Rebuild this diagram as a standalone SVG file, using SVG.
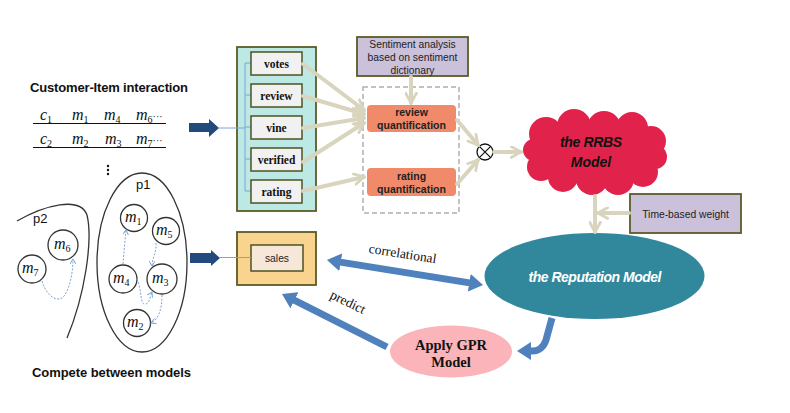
<svg xmlns="http://www.w3.org/2000/svg" width="790" height="413" viewBox="0 0 790 413">
<style>
.sans{font-family:"Liberation Sans","DejaVu Sans",sans-serif}
.serif{font-family:"Liberation Serif","DejaVu Serif",serif}
.math{font-family:"Liberation Serif","DejaVu Serif",serif;font-style:italic;font-size:16px;fill:#111}
.sub{font-size:10px;font-style:normal}
.node{fill:#fff;stroke:#333;stroke-width:1.3}
.dash{fill:none;stroke:#7aa6da;stroke-width:1;stroke-dasharray:2,1.5}
.beige{fill:none;stroke:#d8d4bd;stroke-width:4;stroke-linecap:round}
.blue{fill:none;stroke:#4f81bd;stroke-width:7}
.thin{fill:none;stroke:#7aa6d6;stroke-width:1}
.field{fill:#f1f1f1;stroke:#4d5220;stroke-width:1.5}
.fieldtxt{font-family:"Liberation Serif",serif;font-weight:bold;font-size:11.5px;fill:#111;text-anchor:middle}
.olive{stroke:#5b5a26;stroke-width:1.8}
.quant{fill:#f18a6a}
.qtxt{font-family:"Liberation Sans",sans-serif;font-weight:bold;font-size:10.5px;fill:#222;text-anchor:middle}
.small{font-family:"Liberation Sans",sans-serif;font-size:10.3px;fill:#222;text-anchor:middle}
</style>
<defs>
<marker id="chev" viewBox="0 0 12 12" refX="10" refY="6" markerWidth="13" markerHeight="13" markerUnits="userSpaceOnUse" orient="auto">
<path d="M1,1 L10,6 L1,11" fill="none" stroke="#d8d4bd" stroke-width="2.6" stroke-linecap="round"/>
</marker>
<marker id="tri" viewBox="0 0 14 18" refX="2" refY="9" markerWidth="14" markerHeight="18" markerUnits="userSpaceOnUse" orient="auto-start-reverse">
<path d="M0,0 L14,9 L0,18 z" fill="#4f81bd"/>
</marker>
<marker id="dtri" viewBox="0 0 6 6" refX="5" refY="3" markerWidth="6" markerHeight="6" markerUnits="userSpaceOnUse" orient="auto">
<path d="M0,0 L5,3 L0,6" fill="none" stroke="#7aa6da" stroke-width="1"/>
</marker>
</defs>
<rect width="790" height="413" fill="#fff"/>

<!-- Customer-item interaction -->
<g id="interaction">
<text x="30" y="92" class="sans" font-weight="bold" font-size="13" textLength="158" fill="#111">Customer-Item interaction</text>
<text class="math" y="120"><tspan x="40">c</tspan><tspan class="sub" dy="3">1</tspan><tspan x="72" dy="-3">m</tspan><tspan class="sub" dy="3">1</tspan><tspan x="104" dy="-3">m</tspan><tspan class="sub" dy="3">4</tspan><tspan x="136" dy="-3">m</tspan><tspan class="sub" dy="3">6</tspan><tspan dy="-3" font-style="normal" font-size="10">···</tspan></text>
<line x1="33" y1="123.5" x2="166" y2="123.5" stroke="#111" stroke-width="1.2"/>
<text class="math" y="144"><tspan x="40">c</tspan><tspan class="sub" dy="3">2</tspan><tspan x="72" dy="-3">m</tspan><tspan class="sub" dy="3">2</tspan><tspan x="105" dy="-3">m</tspan><tspan class="sub" dy="3">3</tspan><tspan x="136" dy="-3">m</tspan><tspan class="sub" dy="3">7</tspan><tspan dy="-3" font-style="normal" font-size="10">···</tspan></text>
<line x1="33" y1="147.5" x2="166" y2="147.5" stroke="#111" stroke-width="1.2"/>
<circle cx="108" cy="166" r="1.2" fill="#111"/>
<circle cx="108" cy="170" r="1.2" fill="#111"/>
<circle cx="108" cy="174" r="1.2" fill="#111"/>
</g>

<!-- Compete between models -->
<g id="compete">
<path d="M17,221 C45,205 80,196 87,215 C93,240 85,295 67,338" fill="none" stroke="#333" stroke-width="1.3"/>
<text x="33" y="223" class="sans" font-size="13" fill="#111">p2</text>
<ellipse cx="142" cy="262.5" rx="45" ry="89.5" fill="none" stroke="#333" stroke-width="1.3"/>
<text x="136" y="189" class="sans" font-size="13" fill="#111">p1</text>
<g id="m6"><circle cx="63" cy="245" r="15" class="node"/><text class="math" x="54" y="249">m<tspan class="sub" dy="3">6</tspan></text></g>
<g id="m7"><circle cx="32" cy="269" r="14" class="node"/><text class="math" x="22" y="273">m<tspan class="sub" dy="3">7</tspan></text></g>
<g id="m1"><circle cx="134" cy="218" r="13.5" class="node"/><text class="math" x="125" y="222">m<tspan class="sub" dy="3">1</tspan></text></g>
<g id="m5"><circle cx="166" cy="231" r="13.5" class="node"/><text class="math" x="156" y="235">m<tspan class="sub" dy="3">5</tspan></text></g>
<g id="m4"><circle cx="123" cy="279" r="14" class="node"/><text class="math" x="113" y="283">m<tspan class="sub" dy="3">4</tspan></text></g>
<g id="m3"><circle cx="162" cy="279" r="15" class="node"/><text class="math" x="152" y="283">m<tspan class="sub" dy="3">3</tspan></text></g>
<g id="m2"><circle cx="137" cy="323" r="13.5" class="node"/><text class="math" x="127" y="327">m<tspan class="sub" dy="3">2</tspan></text></g>
<g id="m-links">
<path class="dash" d="M42,281 C48,300 60,302 64,296 C70,288 73,272 73,259" marker-end="url(#dtri)"/>
<path class="dash" d="M123,264 C124,252 125,240 126,230" marker-end="url(#dtri)"/>
<path class="dash" d="M156,243 C157,252 152,258 152,266" marker-end="url(#dtri)"/>
<path class="dash" d="M137,279 C142,290 140,305 145,304 C150,304 150,296 152,292" marker-end="url(#dtri)"/>
<path class="dash" d="M162,295 C162,310 158,320 151,323" marker-end="url(#dtri)"/>
</g>
<text x="32" y="377" class="sans" font-weight="bold" font-size="13" textLength="159" fill="#111">Compete between models</text>
</g>

<!-- Navy block arrows -->
<g id="big-arrows" fill="#234a7d">
<polygon points="189,123 209,123 209,119 219,128 209,137 209,132 189,132"/>
<polygon points="190,253 211,253 211,250 220,258 211,266 211,263 190,263"/>
</g>

<!-- Feature panel -->
<g id="features">
<rect x="237" y="47" width="79" height="164" fill="#bce9e4" class="olive"/>
<path class="thin" d="M219,128 H245 M245,63 V191 M245,63 H251 M245,95 H251 M245,127 H251 M245,159 H251 M245,191 H251"/>
<g id="votes"><rect x="251" y="52" width="51" height="23" class="field"/><text x="276.5" y="67.5" class="fieldtxt">votes</text></g>
<g id="review"><rect x="251" y="84" width="51" height="23" class="field"/><text x="276.5" y="99.5" class="fieldtxt">review</text></g>
<g id="vine"><rect x="251" y="116" width="51" height="23" class="field"/><text x="276.5" y="131.5" class="fieldtxt">vine</text></g>
<g id="verified"><rect x="251" y="148" width="51" height="23" class="field"/><text x="276.5" y="163.5" class="fieldtxt">verified</text></g>
<g id="rating"><rect x="251" y="180" width="51" height="23" class="field"/><text x="276.5" y="195.5" class="fieldtxt">rating</text></g>
</g>

<!-- Sales -->
<g id="sales">
<rect x="237" y="232" width="79" height="53" fill="#f9d48e" class="olive"/>
<rect x="251" y="245" width="52" height="26" fill="#f6e7d8" stroke="#4d5220" stroke-width="1.5"/>
<path class="thin" d="M220,257.5 H251"/>
<text x="277" y="261.5" class="small">sales</text>
</g>

<!-- Sentiment -->
<g id="sentiment">
<rect x="357" y="37" width="111" height="39" fill="#ccc1da" class="olive"/>
<text x="412.5" y="47.5" class="small">Sentiment analysis</text>
<text x="412.5" y="60.5" class="small">based on sentiment</text>
<text x="412.5" y="73.5" class="small">dictionary</text>
</g>

<!-- Quantification -->
<g id="quantification">
<rect x="363" y="87" width="96" height="126" fill="none" stroke="#b0b0b0" stroke-width="1.5" stroke-dasharray="5,3"/>
<g id="review-q"><rect x="367" y="105" width="89" height="27" rx="4" class="quant"/><text x="411.5" y="116" class="qtxt">review</text><text x="411.5" y="129" class="qtxt">quantification</text></g>
<g id="rating-q"><rect x="367" y="168" width="89" height="28" rx="4" class="quant"/><text x="411.5" y="180" class="qtxt">rating</text><text x="411.5" y="193" class="qtxt">quantification</text></g>
</g>

<!-- Combine -->
<g id="combine">
<circle cx="485" cy="152" r="8" fill="#fff" stroke="#111" stroke-width="1.3"/>
<path d="M479.3,146.3 L490.7,157.7 M490.7,146.3 L479.3,157.7" stroke="#111" stroke-width="1.2"/>
</g>

<!-- RRBS cloud -->
<g id="rrbs" fill="#e1234c">
<ellipse cx="595" cy="155" rx="58" ry="30"/>
<circle cx="546" cy="134" r="17"/>
<circle cx="574" cy="126" r="17"/>
<circle cx="604" cy="128" r="17"/>
<circle cx="632" cy="128" r="16"/>
<circle cx="651" cy="141" r="15"/>
<circle cx="655" cy="157" r="12"/>
<circle cx="643" cy="172" r="15"/>
<circle cx="618" cy="179" r="16"/>
<circle cx="592" cy="179" r="16"/>
<circle cx="563" cy="177" r="15"/>
<circle cx="541" cy="167" r="14"/>
<circle cx="534" cy="150" r="11"/>
<text x="591" y="147" class="sans" font-weight="bold" font-style="italic" font-size="14" fill="#111" text-anchor="middle" textLength="62">the RRBS</text>
<text x="591" y="167" class="sans" font-weight="bold" font-style="italic" font-size="14" fill="#111" text-anchor="middle">Model</text>
</g>

<!-- Time-based weight -->
<g id="time-weight">
<rect x="630" y="194" width="111" height="39" fill="#ccc1da" class="olive"/>
<text x="685.5" y="217.5" class="small">Time-based weight</text>
</g>

<!-- Reputation -->
<g id="reputation">
<ellipse cx="594.5" cy="276" rx="110" ry="43" fill="#31879b"/>
<text x="595" y="282" class="sans" font-weight="bold" font-style="italic" font-size="14" fill="#fff" text-anchor="middle" textLength="133">the Reputation Model</text>
</g>

<!-- GPR -->
<g id="gpr">
<ellipse cx="451" cy="351.5" rx="61" ry="26" fill="#fbb4b9"/>
<text x="451" y="350" class="serif" font-weight="bold" font-size="14.5" fill="#111" text-anchor="middle">Apply GPR</text>
<text x="451" y="367" class="serif" font-weight="bold" font-size="14.5" fill="#111" text-anchor="middle">Model</text>
</g>

<!-- Connectors -->
<g id="connectors">
<path class="beige" d="M303,64 L364,110" marker-end="url(#chev)"/>
<path class="beige" d="M303,96 L364,114" marker-end="url(#chev)"/>
<path class="beige" d="M303,128 L364,118" marker-end="url(#chev)"/>
<path class="beige" d="M303,162 L364,123" marker-end="url(#chev)"/>
<path class="beige" d="M303,191 L364,177" marker-end="url(#chev)"/>
<path class="beige" d="M411,77 L411,103" marker-end="url(#chev)"/>
<path class="beige" d="M457,120 L478,145" marker-end="url(#chev)"/>
<path class="beige" d="M457,184 L478,160" marker-end="url(#chev)"/>
<path class="beige" d="M494,152 L521,152" marker-end="url(#chev)"/>
<path class="beige" d="M595,196 L595,232" marker-end="url(#chev)"/>
<path class="beige" d="M629,213 L598,213" marker-end="url(#chev)"/>
<path class="blue" d="M338.8,261.9 L471.2,283.1" marker-start="url(#tri)" marker-end="url(#tri)"/>
<path class="blue" d="M387,347 L292.7,299.4" marker-end="url(#tri)"/>
<path class="blue" d="M552,318 L546,340 Q542,352 530,351 L529,351" marker-end="url(#tri)"/>
<text x="402" y="258" class="serif" font-size="13.5" fill="#111" text-anchor="middle" transform="rotate(9 402 258)">correlational</text>
<text x="346" y="306" class="serif" font-size="13.5" fill="#111" text-anchor="middle" transform="rotate(26 346 306)">predict</text>
</g>
</svg>
